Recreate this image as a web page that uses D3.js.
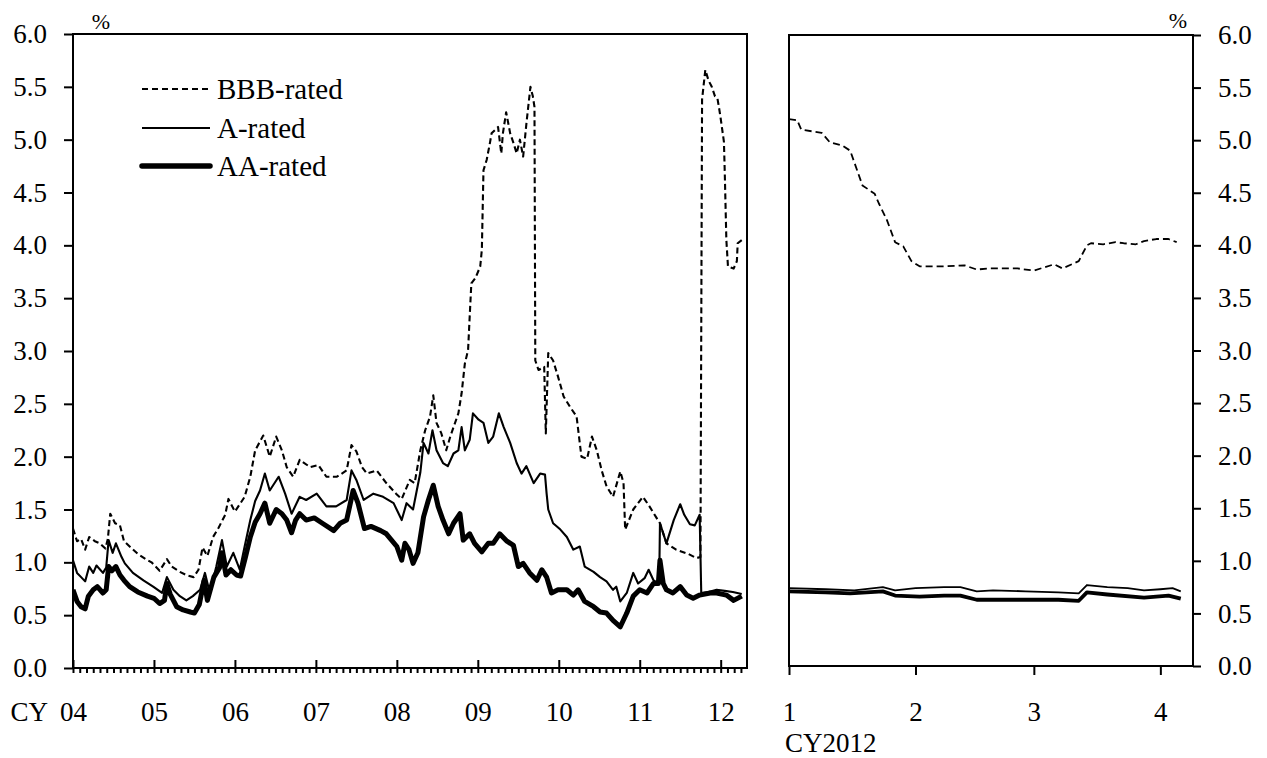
<!DOCTYPE html>
<html><head><meta charset="utf-8">
<script src="https://cdn.jsdelivr.net/npm/d3@7"></script>
<style>
body{margin:0;background:#fff;}
svg text{font-family:"Liberation Serif","Times New Roman",serif;fill:#000;}
</style></head><body>
<svg id="chart" width="1267" height="758"></svg>
<script>
// ---------- DATA ----------
const seriesNames = ["BBB-rated", "A-rated", "AA-rated"];
const yTickValues = [0, 0.5, 1, 1.5, 2, 2.5, 3, 3.5, 4, 4.5, 5, 5.5, 6];
const leftYearTicks = [2004, 2005, 2006, 2007, 2008, 2009, 2010, 2011, 2012];
const leftYearLabels = ["04", "05", "06", "07", "08", "09", "10", "11", "12"];
const rightMonthTicks = ["2012-01-01", "2012-02-01", "2012-03-01", "2012-04-01"];
const rightMonthLabels = ["1", "2", "3", "4"];

// left panel: [decimal year, %]
const bbbLeft = [
[2004.00,1.32],[2004.05,1.20],[2004.10,1.22],[2004.15,1.12],[2004.20,1.24],[2004.27,1.20],[2004.33,1.18],
[2004.40,1.13],[2004.43,1.22],[2004.46,1.46],[2004.52,1.37],[2004.58,1.35],[2004.63,1.20],[2004.70,1.15],
[2004.80,1.08],[2004.90,1.03],[2004.97,1.00],[2005.07,0.92],[2005.16,1.03],[2005.22,0.96],[2005.32,0.91],
[2005.40,0.88],[2005.49,0.86],[2005.55,0.93],[2005.60,1.14],[2005.66,1.06],[2005.73,1.24],[2005.80,1.33],
[2005.88,1.45],[2005.92,1.60],[2006.00,1.48],[2006.06,1.55],[2006.12,1.62],[2006.19,1.81],[2006.25,2.06],
[2006.35,2.20],[2006.43,2.00],[2006.51,2.19],[2006.58,2.06],[2006.64,1.90],[2006.72,1.81],[2006.80,1.97],
[2006.93,1.90],[2007.03,1.92],[2007.13,1.81],[2007.26,1.81],[2007.38,1.87],[2007.44,2.11],[2007.50,2.05],
[2007.57,1.90],[2007.63,1.84],[2007.75,1.87],[2007.87,1.75],[2007.99,1.65],[2008.06,1.60],[2008.16,1.78],
[2008.22,1.75],[2008.29,2.06],[2008.35,2.25],[2008.41,2.38],[2008.45,2.58],[2008.49,2.32],[2008.55,2.22],
[2008.61,2.06],[2008.66,2.19],[2008.76,2.41],[2008.80,2.60],[2008.84,2.88],[2008.88,3.01],[2008.90,3.33],
[2008.92,3.64],[2008.97,3.69],[2009.03,3.80],[2009.05,3.96],[2009.07,4.71],[2009.11,4.81],[2009.15,4.97],
[2009.17,5.06],[2009.21,5.09],[2009.25,5.12],[2009.29,4.87],[2009.31,5.06],[2009.35,5.26],[2009.40,5.06],
[2009.44,4.97],[2009.48,4.87],[2009.52,5.00],[2009.56,4.84],[2009.60,5.15],[2009.65,5.50],[2009.68,5.41],
[2009.70,5.31],[2009.71,2.91],[2009.75,2.82],[2009.82,2.85],[2009.84,2.22],[2009.87,2.98],[2009.93,2.91],
[2009.99,2.76],[2010.06,2.57],[2010.14,2.47],[2010.22,2.38],[2010.28,2.00],[2010.35,1.98],[2010.41,2.19],
[2010.47,2.06],[2010.53,1.87],[2010.59,1.72],[2010.67,1.62],[2010.76,1.86],[2010.80,1.75],[2010.82,1.31],
[2010.92,1.50],[2011.04,1.62],[2011.12,1.53],[2011.20,1.43],[2011.25,1.37],[2011.33,1.18],[2011.45,1.12],
[2011.60,1.08],[2011.70,1.04],[2011.75,1.05],[2011.77,5.38],[2011.81,5.66],[2011.85,5.56],[2011.89,5.50],
[2011.93,5.41],[2011.96,5.39],[2011.98,5.30],[2012.00,5.20],[2012.04,4.98],[2012.05,4.70],[2012.07,4.05],
[2012.09,3.80],[2012.16,3.78],[2012.20,3.85],[2012.21,4.02],[2012.26,4.05]
];
const aLeft = [
[2004.00,1.02],[2004.05,0.90],[2004.10,0.86],[2004.15,0.82],[2004.20,0.96],[2004.25,0.90],[2004.29,0.97],
[2004.37,0.90],[2004.41,0.95],[2004.44,1.21],[2004.49,1.09],[2004.53,1.18],[2004.60,1.05],[2004.64,0.99],
[2004.74,0.90],[2004.87,0.83],[2004.99,0.77],[2005.10,0.71],[2005.16,0.86],[2005.24,0.74],[2005.32,0.68],
[2005.40,0.64],[2005.48,0.68],[2005.57,0.74],[2005.63,0.90],[2005.69,0.71],[2005.77,0.96],[2005.84,1.21],
[2005.90,0.96],[2005.98,1.09],[2006.06,0.93],[2006.12,1.15],[2006.19,1.40],[2006.25,1.58],[2006.31,1.68],
[2006.37,1.84],[2006.43,1.68],[2006.54,1.81],[2006.62,1.65],[2006.70,1.46],[2006.80,1.62],[2006.88,1.59],
[2007.01,1.65],[2007.13,1.53],[2007.25,1.53],[2007.38,1.59],[2007.44,1.87],[2007.50,1.78],[2007.59,1.59],
[2007.71,1.65],[2007.83,1.62],[2007.96,1.56],[2008.06,1.40],[2008.12,1.56],[2008.20,1.50],[2008.29,1.85],
[2008.33,2.13],[2008.39,2.03],[2008.44,2.25],[2008.49,2.06],[2008.57,1.94],[2008.63,1.91],[2008.70,2.03],
[2008.76,2.06],[2008.80,2.28],[2008.84,2.06],[2008.90,2.16],[2008.94,2.41],[2009.01,2.35],[2009.07,2.32],
[2009.13,2.13],[2009.19,2.19],[2009.26,2.41],[2009.32,2.28],[2009.40,2.13],[2009.48,1.94],[2009.54,1.84],
[2009.60,1.91],[2009.69,1.75],[2009.77,1.84],[2009.83,1.83],[2009.85,1.65],[2009.87,1.50],[2009.93,1.37],
[2010.02,1.31],[2010.10,1.24],[2010.18,1.12],[2010.26,1.15],[2010.32,0.96],[2010.43,0.91],[2010.51,0.86],
[2010.59,0.82],[2010.67,0.74],[2010.71,0.77],[2010.76,0.63],[2010.84,0.71],[2010.92,0.90],[2010.98,0.80],
[2011.06,0.85],[2011.11,0.93],[2011.17,0.83],[2011.24,0.80],[2011.25,1.37],[2011.33,1.18],[2011.42,1.40],
[2011.50,1.55],[2011.55,1.45],[2011.62,1.36],[2011.68,1.35],[2011.74,1.45],[2011.76,0.71],[2011.85,0.72],
[2011.95,0.74],[2012.05,0.73],[2012.15,0.72],[2012.26,0.70]
];
const aaLeft = [
[2004.00,0.74],[2004.05,0.63],[2004.10,0.58],[2004.15,0.56],[2004.19,0.68],[2004.25,0.74],[2004.30,0.77],
[2004.37,0.71],[2004.41,0.74],[2004.44,0.96],[2004.48,0.92],[2004.53,0.96],[2004.58,0.88],[2004.63,0.83],
[2004.70,0.77],[2004.80,0.72],[2004.92,0.68],[2005.00,0.66],[2005.07,0.61],[2005.13,0.64],[2005.16,0.80],
[2005.20,0.70],[2005.28,0.58],[2005.36,0.55],[2005.45,0.53],[2005.50,0.52],[2005.56,0.60],[2005.62,0.83],
[2005.66,0.64],[2005.74,0.86],[2005.81,0.95],[2005.84,1.09],[2005.89,0.88],[2005.95,0.93],[2006.02,0.88],
[2006.07,0.87],[2006.13,1.05],[2006.19,1.24],[2006.25,1.38],[2006.31,1.46],[2006.37,1.56],[2006.43,1.37],
[2006.51,1.50],[2006.58,1.46],[2006.64,1.40],[2006.70,1.28],[2006.75,1.40],[2006.80,1.46],[2006.88,1.40],
[2006.98,1.42],[2007.08,1.37],[2007.22,1.30],[2007.30,1.37],[2007.38,1.40],[2007.46,1.68],[2007.52,1.56],
[2007.60,1.32],[2007.68,1.34],[2007.80,1.30],[2007.87,1.27],[2008.00,1.15],[2008.06,1.02],[2008.10,1.18],
[2008.15,1.12],[2008.20,0.99],[2008.26,1.09],[2008.33,1.43],[2008.39,1.59],[2008.45,1.73],[2008.51,1.53],
[2008.57,1.40],[2008.64,1.27],[2008.70,1.37],[2008.78,1.46],[2008.82,1.21],[2008.90,1.27],[2008.96,1.18],
[2009.05,1.10],[2009.13,1.18],[2009.19,1.18],[2009.27,1.27],[2009.36,1.20],[2009.44,1.16],[2009.50,0.96],
[2009.56,0.99],[2009.64,0.90],[2009.73,0.83],[2009.79,0.93],[2009.85,0.86],[2009.91,0.71],[2009.99,0.74],
[2010.10,0.74],[2010.18,0.69],[2010.24,0.74],[2010.32,0.63],[2010.43,0.58],[2010.51,0.53],[2010.59,0.52],
[2010.67,0.45],[2010.76,0.39],[2010.84,0.52],[2010.92,0.68],[2011.00,0.74],[2011.09,0.71],[2011.17,0.80],
[2011.23,0.80],[2011.25,1.02],[2011.29,0.80],[2011.33,0.74],[2011.41,0.71],[2011.50,0.77],[2011.58,0.69],
[2011.66,0.66],[2011.74,0.69],[2011.87,0.71],[2011.95,0.71],[2012.07,0.69],[2012.16,0.64],[2012.26,0.68]
];

// right panel: [date, %]
const bbbRight = [
["2012-01-01",5.20],["2012-01-03",5.19],["2012-01-04",5.10],["2012-01-09",5.07],["2012-01-11",4.98],
["2012-01-14",4.95],["2012-01-16",4.90],["2012-01-19",4.57],["2012-01-22",4.49],["2012-01-23",4.40],
["2012-01-25",4.24],["2012-01-27",4.03],["2012-01-29",3.99],["2012-01-31",3.85],["2012-02-02",3.80],
["2012-02-08",3.80],["2012-02-13",3.81],["2012-02-16",3.77],["2012-02-19",3.78],["2012-02-26",3.78],
["2012-03-01",3.76],["2012-03-06",3.82],["2012-03-08",3.78],["2012-03-12",3.85],["2012-03-14",4.00],
["2012-03-15",4.02],["2012-03-18",4.01],["2012-03-21",4.03],["2012-03-23",4.02],["2012-03-26",4.01],
["2012-03-28",4.04],["2012-03-31",4.06],["2012-04-03",4.06],["2012-04-05",4.03]
];
const aRight = [
["2012-01-01",0.74],["2012-01-10",0.73],["2012-01-17",0.72],["2012-01-24",0.75],["2012-01-27",0.72],
["2012-02-01",0.74],["2012-02-08",0.75],["2012-02-12",0.75],["2012-02-16",0.71],["2012-02-20",0.72],
["2012-02-28",0.71],["2012-03-07",0.70],["2012-03-12",0.69],["2012-03-14",0.77],["2012-03-19",0.75],
["2012-03-24",0.74],["2012-03-28",0.72],["2012-04-01",0.73],["2012-04-04",0.74],["2012-04-06",0.71]
];
const aaRight = [
["2012-01-01",0.71],["2012-01-10",0.70],["2012-01-16",0.69],["2012-01-24",0.71],["2012-01-27",0.67],
["2012-02-02",0.66],["2012-02-08",0.67],["2012-02-12",0.67],["2012-02-16",0.63],["2012-02-20",0.63],
["2012-02-28",0.63],["2012-03-07",0.63],["2012-03-12",0.62],["2012-03-14",0.70],["2012-03-19",0.68],
["2012-03-28",0.65],["2012-04-03",0.67],["2012-04-06",0.64]
];

// ---------- DRAW ----------
const svg = d3.select("#chart");
const FS = 27;
const parse = d3.utcParse("%Y-%m-%d");

const xL = d3.scaleLinear().domain([2004, 2012.325]).range([73, 747]);
const yL = d3.scaleLinear().domain([0, 6]).range([668, 34]);
const xR = d3.scaleUtc().domain([parse("2012-01-01"), parse("2012-04-09")]).range([789, 1193]);
const yR = d3.scaleLinear().domain([0, 6]).range([666, 35]);

const styles = {
  "BBB-rated": {w: 2.1, dash: "6,3.5"},
  "A-rated": {w: 2.1, dash: null},
  "AA-rated": {w: 5, dash: null}
};

const defs = svg.append("defs");
defs.append("clipPath").attr("id","clipL").append("rect").attr("x",73).attr("y",34).attr("width",674).attr("height",634);
defs.append("clipPath").attr("id","clipR").append("rect").attr("x",789).attr("y",35).attr("width",404).attr("height",631);

const lineL = d3.line().x(d => xL(d[0])).y(d => yL(d[1]));
const gL = svg.append("g").attr("clip-path","url(#clipL)");
[["AA-rated", aaLeft], ["A-rated", aLeft], ["BBB-rated", bbbLeft]].forEach(([name, data]) => {
  const s = styles[name];
  gL.append("path").datum(data).attr("d", lineL)
    .attr("fill","none").attr("stroke","#000").attr("stroke-width", s.w)
    .attr("stroke-linejoin","round").attr("stroke-dasharray", s.dash);
});

const lineR = d3.line().x(d => xR(parse(d[0]))).y(d => yR(d[1]));
const gR = svg.append("g").attr("clip-path","url(#clipR)");
[["AA-rated", aaRight, 3.8], ["A-rated", aRight, 1.8], ["BBB-rated", bbbRight, 1.8]].forEach(([name, data, w]) => {
  const s = styles[name];
  gR.append("path").datum(data).attr("d", lineR)
    .attr("fill","none").attr("stroke","#000").attr("stroke-width", w)
    .attr("stroke-linejoin","round").attr("stroke-dasharray", s.dash ? "7,4" : null);
});

svg.append("rect").attr("x",73).attr("y",34).attr("width",674).attr("height",634)
  .attr("fill","none").attr("stroke","#000").attr("stroke-width",2);
svg.append("rect").attr("x",789).attr("y",35).attr("width",404).attr("height",631)
  .attr("fill","none").attr("stroke","#000").attr("stroke-width",2);

function styleAxis(g){
  g.select(".domain").remove();
  g.selectAll(".tick line").attr("stroke","#000").attr("stroke-width",2);
  g.selectAll("text").attr("font-size",FS).attr("fill","#000")
    .attr("font-family","'Liberation Serif','Times New Roman',serif");
}

svg.append("g").attr("transform","translate(73,0)")
  .call(d3.axisLeft(yL).tickValues(yTickValues).tickFormat(d3.format(".1f")).tickSize(9).tickPadding(17))
  .call(styleAxis);
svg.append("g").attr("transform","translate(1193,0)")
  .call(d3.axisRight(yR).tickValues(yTickValues).tickFormat(d3.format(".1f")).tickSize(8).tickPadding(17))
  .call(styleAxis);

const monthTicks = d3.range(0, 12*8 + 4).map(i => 2004 + i/12);
svg.append("g").attr("transform","translate(0,668)")
  .call(d3.axisBottom(xL).tickValues(monthTicks).tickFormat("").tickSize(5))
  .call(styleAxis);
svg.append("g").attr("transform","translate(0,668)")
  .call(d3.axisBottom(xL).tickValues(leftYearTicks).tickFormat((d,i) => leftYearLabels[i]).tickSizeInner(-8).tickSizeOuter(0).tickPadding(34))
  .call(styleAxis);
svg.append("text").attr("x",48).attr("y",668+34).attr("dy","0.71em").attr("text-anchor","end")
  .attr("font-size",FS).text("CY");

svg.append("g").attr("transform","translate(0,666)")
  .call(d3.axisBottom(xR).tickValues(rightMonthTicks.map(parse)).tickFormat((d,i) => rightMonthLabels[i]).tickSize(9).tickPadding(27))
  .call(styleAxis);
svg.append("text").attr("x",785).attr("y",752).attr("font-size",FS).text("CY2012");

svg.append("text").attr("x",101).attr("y",29).attr("text-anchor","middle").attr("font-size",22).text("%");
svg.append("text").attr("x",1178).attr("y",28).attr("text-anchor","middle").attr("font-size",22).text("%");

const legY = [89, 128, 166];
seriesNames.forEach((name, i) => {
  const s = styles[name];
  svg.append("line").attr("x1",142).attr("x2",210).attr("y1",legY[i]).attr("y2",legY[i])
    .attr("stroke","#000").attr("stroke-width", name === "AA-rated" ? 5.5 : 2)
    .attr("stroke-dasharray", s.dash ? "6,4" : null).attr("stroke-linecap", name === "AA-rated" ? "round" : "butt");
  svg.append("text").attr("x",217).attr("y",legY[i]).attr("dy","0.35em").attr("font-size",29).text(name);
});
</script>
</body></html>
